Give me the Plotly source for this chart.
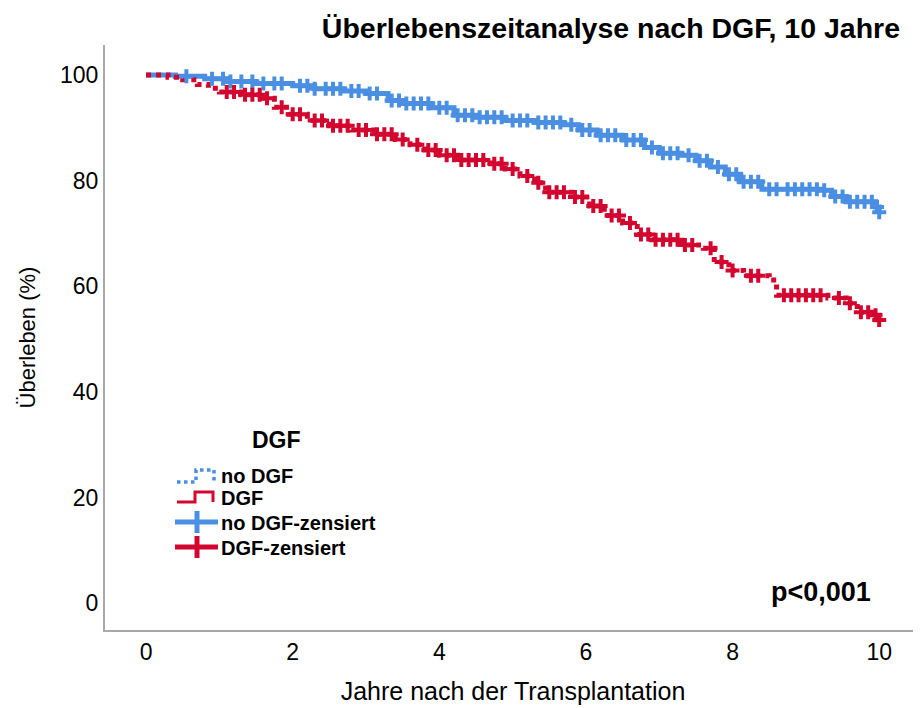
import numpy as np
import plotly.graph_objects as go

# ---- data ----
nodgf_t = [0, 0.4, 0.8, 1.1, 1.5, 2.0, 2.3, 2.7, 3.0, 3.3, 3.5, 3.9, 4.2, 4.5, 4.9, 5.3, 5.7, 5.9,
           6.15, 6.5, 6.8, 7.0, 7.3, 7.5, 7.7, 7.9, 8.1, 8.4, 9.2, 9.35, 9.55, 9.95, 10.0]
nodgf_s = [100, 99.8, 99.3, 98.8, 98.4, 98.0, 97.4, 97.0, 96.5, 95.2, 94.6, 93.8, 92.4, 92.0, 91.4,
           91.0, 90.6, 89.6, 88.6, 87.7, 86.3, 85.2, 84.8, 83.8, 82.6, 81.2, 79.8, 78.4, 78.2, 77.0,
           76.0, 75.0, 74.0]

dgf_t = [0, 0.3, 0.5, 0.7, 0.85, 1.0, 1.3, 1.6, 1.75, 1.95, 2.2, 2.5, 2.8, 3.1, 3.4, 3.6, 3.8, 4.0,
         4.25, 4.7, 4.9, 5.1, 5.3, 5.45, 5.8, 6.05, 6.25, 6.5, 6.7, 6.9, 7.3, 7.6, 7.75, 7.95, 8.15,
         8.5, 8.6, 9.3, 9.55, 9.7, 9.95, 10.0]
dgf_s = [100, 99.6, 99.1, 98.2, 97.5, 96.8, 96.3, 95.6, 93.9, 92.6, 91.4, 90.4, 89.6, 88.8, 87.8,
         86.8, 85.8, 84.8, 83.9, 83.2, 82.2, 80.9, 79.6, 77.8, 76.9, 75.2, 73.4, 72.0, 69.8, 68.8,
         67.8, 67.2, 64.6, 63.0, 62.0, 61.2, 58.3, 57.8, 56.8, 55.1, 54.5, 53.6]

nodgf_censor = [0.55, 0.9, 1.05, 1.15, 1.3, 1.45, 1.6, 1.75, 1.85, 2.1, 2.2, 2.3, 2.45, 2.55, 2.65,
                2.8, 2.9, 3.05, 3.15, 3.35, 3.45, 3.55, 3.65, 3.75, 3.85, 4.0, 4.1, 4.25, 4.35, 4.45,
                4.55, 4.65, 4.75, 4.85, 5.0, 5.1, 5.2, 5.35, 5.45, 5.55, 5.65, 5.8, 5.95, 6.05, 6.2,
                6.3, 6.4, 6.55, 6.65, 6.75, 6.9, 7.05, 7.15, 7.25, 7.4, 7.55, 7.65, 7.8, 7.95, 8.05,
                8.15, 8.25, 8.35, 8.5, 8.6, 8.75, 8.85, 8.95, 9.05, 9.15, 9.25, 9.4, 9.5, 9.6, 9.7,
                9.8, 9.9, 9.97, 10.0]
dgf_censor = [1.1, 1.2, 1.35, 1.45, 1.55, 1.65, 1.85, 2.0, 2.1, 2.3, 2.4, 2.55, 2.65, 2.75, 2.9,
              3.0, 3.15, 3.25, 3.35, 3.5, 3.7, 3.85, 3.95, 4.1, 4.2, 4.3, 4.4, 4.5, 4.6, 4.75,
              4.85, 5.0, 5.2, 5.35, 5.5, 5.6, 5.7, 5.85, 5.95, 6.1, 6.2, 6.35, 6.45, 6.6, 6.75,
              6.85, 6.95, 7.05, 7.15, 7.25, 7.35, 7.45, 7.7, 7.85, 8.0, 8.25, 8.35, 8.7, 8.8,
              8.9, 9.0, 9.1, 9.2, 9.45, 9.6, 9.75, 9.85, 9.95, 10.0]

x_ticks = [0, 2, 4, 6, 8, 10]
y_ticks = [0, 20, 40, 60, 80, 100]

legend_title = "DGF"
legend_labels = ["no DGF", "DGF", "no DGF-zensiert", "DGF-zensiert"]

BLUE = "#4A8FE2"
RED = "#D2062E"
FONT = "Liberation Sans, Arial, sans-serif"

# figure size (page body adds an 8px offset)
W, H = 913, 700
PL, PR, PT, PB = 97, 913, 37, 622


def px(x):
    return (x - PL) / (PR - PL)


def py(y):
    return (PB - y) / (PB - PT)


def step_at(times, surv, query):
    t = np.asarray(times)
    s = np.asarray(surv)
    idx = np.searchsorted(t, np.asarray(query), side="right") - 1
    return s[np.clip(idx, 0, len(s) - 1)]


fig = go.Figure()

# curves
fig.add_trace(go.Scatter(x=nodgf_t, y=nodgf_s, mode="lines", line=dict(color=BLUE, width=5, shape="hv"),
                         showlegend=False, hoverinfo="skip"))
fig.add_trace(go.Scatter(x=dgf_t, y=dgf_s, mode="lines",
                         line=dict(color=RED, width=5, shape="hv", dash="dot"),
                         showlegend=False, hoverinfo="skip"))
# censor marks
fig.add_trace(go.Scatter(x=nodgf_censor, y=step_at(nodgf_t, nodgf_s, nodgf_censor), mode="markers",
                         marker=dict(symbol="cross-thin", size=10, line=dict(color=BLUE, width=4)),
                         showlegend=False, hoverinfo="skip"))
fig.add_trace(go.Scatter(x=dgf_censor, y=step_at(dgf_t, dgf_s, dgf_censor), mode="markers",
                         marker=dict(symbol="cross-thin", size=10, line=dict(color=RED, width=4)),
                         showlegend=False, hoverinfo="skip"))

fig.update_layout(
    width=W, height=H,
    margin=dict(l=PL, r=W - PR, t=PT, b=H - PB),
    paper_bgcolor="white", plot_bgcolor="white",
    font=dict(family=FONT, color="black", size=20),
    title=dict(text="<b>Überlebenszeitanalyse nach DGF, 10 Jahre</b>",
               xref="container", x=892 / W, xanchor="right",
               yref="container", y=1 - 20 / H, yanchor="middle",
               font=dict(size=28.5, family=FONT, color="black")),
    showlegend=False,
)

fig.update_xaxes(range=[-0.56, 10.57], tickvals=x_ticks, ticktext=[str(v) for v in x_ticks],
                 showgrid=False, zeroline=False, showline=True, linecolor="#A8A8A8", linewidth=2,
                 ticks="", automargin=False,
                 tickfont=dict(size=23, family=FONT),
                 title=dict(text="Jahre nach der Transplantation", standoff=19,
                            font=dict(size=25, family=FONT)))
fig.update_yaxes(range=[-5.1, 105.7], tickvals=y_ticks, ticktext=[str(v) for v in y_ticks],
                 showgrid=False, zeroline=False, showline=True, linecolor="#A8A8A8", linewidth=2,
                 ticks="", automargin=False,
                 tickfont=dict(size=23, family=FONT),
                 title=dict(text="Überleben (%)", standoff=18, font=dict(size=22, family=FONT)))

# p-value
fig.add_annotation(text="<b>p<0,001</b>", xref="paper", yref="paper",
                   x=px(813), y=py(584), xanchor="center", yanchor="middle",
                   showarrow=False, font=dict(size=27, family=FONT, color="black"))

# ---- manual legend ----
fig.add_annotation(text="<b>" + legend_title + "</b>", xref="paper", yref="paper",
                   x=px(268), y=py(432), xanchor="center", yanchor="middle", showarrow=False,
                   font=dict(size=23, family=FONT, color="black"))
row_y = [468, 490, 515, 540]
for lab, yy in zip(legend_labels, row_y):
    fig.add_annotation(text="<b>" + lab + "</b>", xref="paper", yref="paper",
                       x=px(211), y=py(yy), xanchor="left", yanchor="middle", showarrow=False,
                       font=dict(size=20, family=FONT, color="black"))


def path(points):
    return "M " + " L ".join(f"{px(a)},{py(b)}" for a, b in points)


# no DGF: dotted step
fig.add_shape(type="path", xref="paper", yref="paper",
              path=path([(169, 474), (188, 474), (188, 462), (206, 462), (206, 473)]),
              line=dict(color=BLUE, width=3.5, dash="dot"))
# DGF: solid step
fig.add_shape(type="path", xref="paper", yref="paper",
              path=path([(169, 494), (187, 494), (187, 484), (205, 484), (205, 494)]),
              line=dict(color=RED, width=3))
# censored symbols
for col, yy in [(BLUE, 514), (RED, 539)]:
    fig.add_shape(type="line", xref="paper", yref="paper",
                  x0=px(167), x1=px(210), y0=py(yy), y1=py(yy), line=dict(color=col, width=5))
    fig.add_shape(type="line", xref="paper", yref="paper",
                  x0=px(189), x1=px(189), y0=py(yy - 11), y1=py(yy + 11), line=dict(color=col, width=5))

fig.write_html("out.html")
